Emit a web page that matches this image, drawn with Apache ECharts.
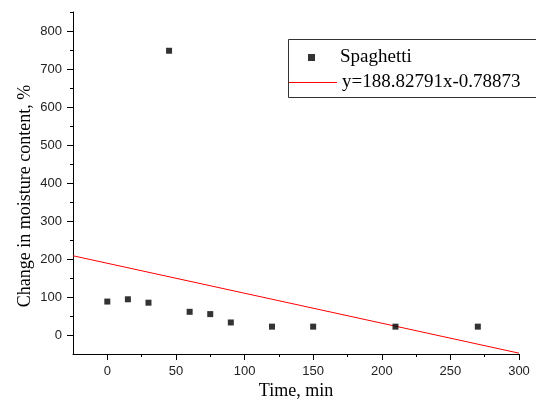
<!DOCTYPE html>
<html>
<head>
<meta charset="utf-8">
<script src="https://cdn.jsdelivr.net/npm/echarts@6/dist/echarts.min.js"></script>
<style>
html,body{margin:0;padding:0;background:#fff;}
#c{width:536px;height:405px;}
</style>
</head>
<body>
<div id="c"></div>
<script>
// Data
var timeMin = [0, 15, 30, 45, 60, 75, 90, 120, 150, 210, 270];
var moisture = [88, 94, 85, 748, 61, 55, 33, 22, 22, 22, 22];
var fitX = [-25, 300];
var fitY = [208.5, -47.8];
var xMajorTicks = [0, 50, 100, 150, 200, 250, 300];
var xMinorTicks = [25, 75, 125, 175, 225, 275];
var yMajorTicks = [0, 100, 200, 300, 400, 500, 600, 700, 800];
var yMinorTicks = [50, 150, 250, 350, 450, 550, 650, 750, 850];
var seriesNames = ['Spaghetti', 'y=188.82791x-0.78873'];

var chart = echarts.init(document.getElementById('c'), null, {renderer: 'canvas'});
var axisColor = '#000';
var labelStyle = {color: '#222', fontFamily: 'Liberation Sans, Arial, sans-serif', fontSize: 13};
var titleStyle = {color: '#000', fontFamily: 'Liberation Serif, Times New Roman, serif', fontSize: 18};

var option = {
  animation: false,
  backgroundColor: '#fff',
  grid: {left: 73, right: 17, top: 12, bottom: 51, containLabel: false},
  xAxis: [{
    type: 'value', min: -25, max: 300, position: 'bottom',
    name: 'Time, min', nameLocation: 'middle', nameGap: 28, nameMoveOverlap: false,
    nameTextStyle: titleStyle,
    axisLine: {show: true, onZero: false, lineStyle: {color: axisColor, width: 1}},
    axisTick: {show: true, customValues: xMajorTicks, length: 6, lineStyle: {color: axisColor}},
    axisLabel: Object.assign({customValues: xMajorTicks, margin: 11}, labelStyle),
    splitLine: {show: false}
  }, {
    type: 'value', min: -25, max: 300, position: 'bottom', offset: 0,
    axisLine: {show: false, onZero: false},
    axisTick: {show: true, customValues: xMinorTicks, length: 3, lineStyle: {color: axisColor}},
    axisLabel: {show: false},
    splitLine: {show: false}
  }],
  yAxis: [{
    type: 'value', min: -50, max: 850, position: 'left',
    name: 'Change in moisture content, %', nameLocation: 'middle', nameGap: 39, nameMoveOverlap: false,
    nameTextStyle: Object.assign({padding: [0, 26, 0, 0]}, titleStyle),
    axisLine: {show: true, onZero: false, lineStyle: {color: axisColor, width: 1}},
    axisTick: {show: true, customValues: yMajorTicks, length: 6, lineStyle: {color: axisColor}},
    axisLabel: Object.assign({customValues: yMajorTicks, margin: 11}, labelStyle),
    splitLine: {show: false}
  }, {
    type: 'value', min: -50, max: 850, position: 'left', offset: 0,
    axisLine: {show: false, onZero: false},
    axisTick: {show: true, customValues: yMinorTicks, length: 3, lineStyle: {color: axisColor}},
    axisLabel: {show: false},
    splitLine: {show: false}
  }],
  legend: [{
    data: [{name: seriesNames[0], icon: 'rect'}],
    left: 308, top: 48, itemWidth: 7, itemHeight: 7, padding: 0,
    selectedMode: false,
    textStyle: {color: '#000', fontFamily: 'Liberation Serif, Times New Roman, serif', fontSize: 19, padding: [0, 0, 0, 20]}
  }, {
    data: [{name: seriesNames[1], icon: 'rect'}],
    left: 288, top: 73, itemWidth: 49, itemHeight: 1, padding: 0,
    selectedMode: false,
    textStyle: {color: '#000', fontFamily: 'Liberation Serif, Times New Roman, serif', fontSize: 19}
  }],
  graphic: [{
    type: 'rect', left: 286, top: 37, z: 100,
    shape: {width: 260, height: 58},
    style: {fill: 'none', stroke: '#333', lineWidth: 1}
  }],
  series: [{
    name: seriesNames[0], type: 'scatter', xAxisIndex: 0, yAxisIndex: 0,
    symbol: 'rect', symbolSize: 6,
    itemStyle: {color: '#000'},
    data: timeMin.map(function (t, i) { return [t, moisture[i]]; }),
    z: 3
  }, {
    name: seriesNames[1], type: 'line', xAxisIndex: 0, yAxisIndex: 0,
    symbol: 'none', showSymbol: false,
    lineStyle: {color: '#ff0000', width: 1},
    itemStyle: {color: '#ff0000'},
    data: fitX.map(function (x, i) { return [x, fitY[i]]; }),
    z: 2
  }]
};
chart.setOption(option);
</script>
</body>
</html>
